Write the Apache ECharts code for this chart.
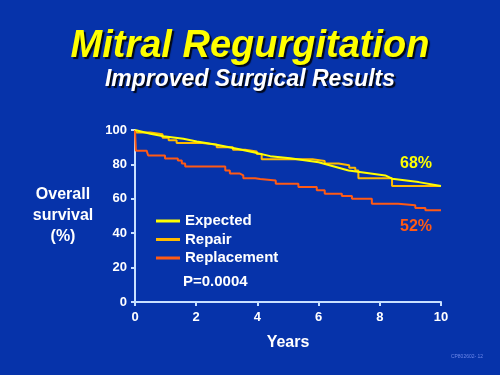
<!DOCTYPE html>
<html><head><meta charset="utf-8">
<script src="https://cdn.jsdelivr.net/npm/echarts@6/dist/echarts.min.js"></script>
<style>html,body{margin:0;padding:0;background:#0633aa;}#c{width:500px;height:375px;}</style>
</head><body><div id="c"></div>
<script>
// Data (years, survival %)
var expectedYears = [0, 0.5, 0.93, 1.58, 2.02, 2.67, 3.33, 3.87, 4.42, 5.07, 6.0, 6.98, 8.18, 8.4, 9.27, 10];
var expectedVals  = [100, 97.8, 96.4, 94.9, 93.3, 91.4, 89.1, 87.1, 84.8, 83.6, 81.3, 76.5, 73.6, 71.7, 69.7, 67.5];

var repairYears = [0, 0.05, 0.5, 0.9, 1.1, 1.36, 2.2, 2.67, 3.2, 3.6, 3.98, 4.14, 5.8, 6.2, 6.65, 7.0, 7.2, 7.3, 8.4, 10];
var repairVals  = [100, 98.5, 97.5, 95.5, 94, 92.5, 91.5, 90, 88.5, 87.5, 86, 83, 82, 80.5, 79.5, 78, 76.5, 72, 67.5, 67.5];

var replYears = [0, 0.03, 0.38, 0.43, 0.98, 1.4, 1.53, 1.64, 2.95, 3.1, 3.43, 3.54, 3.93, 4.09, 4.6, 5.34, 5.94, 6.2, 6.76, 7.09, 7.74, 8.6, 9.16, 9.49, 10];
var replVals  = [100, 88, 87, 85.2, 83.5, 82.3, 80.5, 78.8, 76.5, 74.7, 73.6, 72, 71.5, 70.7, 68.8, 66.8, 64.9, 62.9, 61.6, 60, 57.1, 56.2, 54.6, 53.3, 53.3];

var seriesNames = ['Expected', 'Repair', 'Replacement'];
var xTicks = [0, 2, 4, 6, 8, 10];
var yTicks = [0, 20, 40, 60, 80, 100];
var endLabels = ['68%', '52%'];
var pValue = 'P=0.0004';

function pairs(xs, ys){ return xs.map(function(x,i){ return [x, ys[i]]; }); }

var chart = echarts.init(document.getElementById('c'), null, {renderer:'canvas'});
var axisCol = '#c8e0ff';
var ff = 'Liberation Sans, Arial, sans-serif';
var shadow = {textShadowColor:'rgba(0,0,0,0.85)', textShadowOffsetX:2, textShadowOffsetY:2, textShadowBlur:1};

chart.setOption({
  backgroundColor:'#0633aa',
  animation:false,
  grid:{left:135, right:59, top:130, bottom:73},
  xAxis:{type:'value', min:0, max:10, interval:2,
    axisLine:{lineStyle:{color:axisCol, width:2}},
    axisTick:{show:true, length:4, lineStyle:{color:axisCol, width:2}},
    splitLine:{show:false},
    axisLabel:{color:'#ffffff', fontSize:13, margin:9, fontFamily:ff, fontWeight:'bold',
      textShadowColor:'rgba(0,0,0,0.7)', textShadowOffsetX:1, textShadowOffsetY:1,
      formatter:function(v){ return xTicks.indexOf(v) >= 0 ? String(v) : ''; }}
  },
  yAxis:{type:'value', min:0, max:100, interval:20,
    axisLine:{show:true, lineStyle:{color:axisCol, width:2}},
    axisTick:{show:true, length:4, lineStyle:{color:axisCol, width:2}},
    splitLine:{show:false},
    axisLabel:{color:'#ffffff', fontSize:13, margin:8, fontFamily:ff, fontWeight:'bold',
      textShadowColor:'rgba(0,0,0,0.7)', textShadowOffsetX:1, textShadowOffsetY:1,
      formatter:function(v){ return yTicks.indexOf(v) >= 0 ? String(v) : ''; }}
  },
  legend:{orient:'vertical', left:151, top:208, itemWidth:24, itemHeight:3, itemGap:2.5,
    icon:'rect', data:seriesNames,
    textStyle:{color:'#ffffff', fontSize:15, lineHeight:16, fontFamily:ff, fontWeight:'bold',
      textShadowColor:'rgba(0,0,0,0.8)', textShadowOffsetX:1.5, textShadowOffsetY:1.5}
  },
  series:[
    {name:seriesNames[0], type:'line', data:pairs(expectedYears, expectedVals), showSymbol:false, z:5,
      lineStyle:{color:'#ffff00', width:2}, itemStyle:{color:'#ffff00'}},
    {name:seriesNames[1], type:'line', step:'end', data:pairs(repairYears, repairVals), showSymbol:false, z:4,
      lineStyle:{color:'#ffbb00', width:2}, itemStyle:{color:'#ffbb00'}},
    {name:seriesNames[2], type:'line', step:'end', data:pairs(replYears, replVals), showSymbol:false, z:4,
      lineStyle:{color:'#ff5a14', width:2}, itemStyle:{color:'#ff5a14'}}
  ],
  graphic:[
    {type:'text', left:'center', top:28, style:Object.assign({text:'Mitral Regurgitation', fill:'#ffff00',
      font:'italic bold 38px "Liberation Sans", Arial, sans-serif'}, shadow)},
    {type:'text', left:'center', top:68, style:Object.assign({text:'Improved Surgical Results', fill:'#ffffff',
      font:'italic bold 23px "Liberation Sans", Arial, sans-serif'}, shadow)},
    {type:'text', x:63, y:216, style:{text:'Overall\nsurvival\n(%)', fill:'#ffffff', align:'center', verticalAlign:'middle',
      lineHeight:21, font:'bold 16px "Liberation Sans", Arial, sans-serif',
      textShadowColor:'rgba(0,0,0,0.8)', textShadowOffsetX:1.5, textShadowOffsetY:1.5}},
    {type:'text', x:288, y:343, style:{text:'Years', fill:'#ffffff', align:'center', verticalAlign:'middle',
      font:'bold 16px "Liberation Sans", Arial, sans-serif',
      textShadowColor:'rgba(0,0,0,0.8)', textShadowOffsetX:1.5, textShadowOffsetY:1.5}},
    {type:'text', x:416, y:164, style:{text:endLabels[0], fill:'#ffff00', align:'center', verticalAlign:'middle',
      font:'bold 16px "Liberation Sans", Arial, sans-serif',
      textShadowColor:'rgba(0,0,0,0.7)', textShadowOffsetX:1, textShadowOffsetY:1}},
    {type:'text', x:416, y:227, style:{text:endLabels[1], fill:'#ff5a14', align:'center', verticalAlign:'middle',
      font:'bold 16px "Liberation Sans", Arial, sans-serif',
      textShadowColor:'rgba(0,0,0,0.7)', textShadowOffsetX:1, textShadowOffsetY:1}},
    {type:'text', x:183, y:282, style:{text:pValue, fill:'#ffffff', align:'left', verticalAlign:'middle',
      font:'bold 15px "Liberation Sans", Arial, sans-serif',
      textShadowColor:'rgba(0,0,0,0.8)', textShadowOffsetX:1.5, textShadowOffsetY:1.5}},
    {type:'text', x:467, y:357, style:{text:'CP802602- 12', fill:'#6b86e8', align:'center', verticalAlign:'middle',
      font:'5px "Liberation Sans", Arial, sans-serif'}}
  ]
});
</script></body></html>
